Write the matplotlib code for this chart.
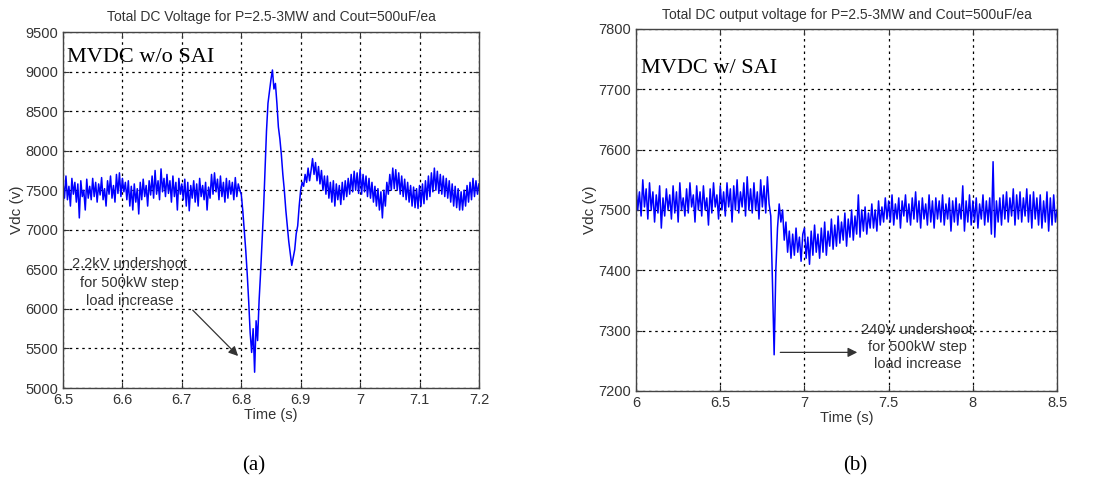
import numpy as np
import matplotlib
matplotlib.use("Agg")
import matplotlib.pyplot as plt

plt.rcParams['font.family'] = ['Liberation Sans', 'DejaVu Sans']

# ---- panel (a): MVDC w/o SAI, sampled every 2.5 ms ----
dt_a = 0.0025
# 6.500 .. 6.7975 baseline
va_base1 = [7600, 7400, 7680, 7380, 7550, 7300, 7650, 7450, 7600, 7350,
            7580, 7150, 7620, 7420, 7500, 7250, 7640, 7400, 7550, 7380,
            7650, 7420, 7600, 7350, 7580, 7440, 7660, 7380, 7520, 7300,
            7620, 7450, 7680, 7400, 7560, 7350, 7700, 7460, 7720, 7420,
            7650, 7480, 7600, 7380, 7620, 7300, 7550, 7250, 7580, 7350,
            7520, 7200, 7600, 7380, 7640, 7420, 7560, 7300, 7620, 7440,
            7680, 7400, 7750, 7450, 7620, 7380, 7770, 7480, 7650, 7420,
            7700, 7460, 7620, 7350, 7680, 7420, 7600, 7250, 7650, 7450,
            7580, 7380, 7640, 7300, 7600, 7240, 7560, 7400, 7620, 7350,
            7580, 7300, 7650, 7420, 7560, 7380, 7600, 7250, 7540, 7400,
            7700, 7450, 7720, 7480, 7640, 7380, 7680, 7420, 7600, 7350,
            7650, 7400, 7620, 7450, 7600, 7380, 7660, 7420, 7580, 7500]
# 6.800 .. 6.9175 step-load transient
va_trans = [7450, 7250, 7000, 6750, 6450, 6100, 5700, 5450, 5750, 5200,
            5850, 5600, 6100, 6450, 6850, 7250, 7750, 8250, 8600, 8750,
            8900, 9020, 8780, 8850, 8600, 8300, 8150, 7950, 7700, 7500,
            7250, 7050, 6850, 6700, 6550, 6650, 6750, 6950, 7050, 7300,
            7500, 7600, 7550, 7700, 7600, 7780, 7620, 7750]
# 6.920 .. 7.200 recovery
va_base2 = [7900, 7700, 7850, 7620, 7800, 7580, 7750, 7500, 7680, 7450,
            7680, 7400, 7600, 7350, 7620, 7300, 7580, 7380, 7560, 7320,
            7600, 7380, 7620, 7420, 7650, 7450, 7700, 7480, 7740, 7500,
            7720, 7460, 7760, 7450, 7700, 7480, 7680, 7420, 7650, 7400,
            7600, 7350, 7550, 7300, 7520, 7250, 7480, 7150, 7500, 7300,
            7600, 7450, 7700, 7500, 7780, 7520, 7760, 7500, 7720, 7450,
            7680, 7420, 7640, 7380, 7600, 7350, 7560, 7300, 7540, 7280,
            7520, 7270, 7560, 7300, 7580, 7330, 7620, 7380, 7680, 7420,
            7720, 7480, 7780, 7500, 7740, 7460, 7700, 7450, 7680, 7420,
            7650, 7400, 7620, 7350, 7580, 7300, 7550, 7280, 7520, 7250,
            7480, 7250, 7500, 7300, 7560, 7350, 7600, 7380, 7650, 7420,
            7620, 7450, 7580]

# ---- panel (b): MVDC w/ SAI, sampled every 10 ms ----
dt_b = 0.01
# 6.00 .. 6.79
vb_base1 = [7540, 7500, 7530, 7490, 7550, 7505, 7535, 7485, 7545, 7500,
            7530, 7480, 7525, 7495, 7540, 7470, 7520, 7490, 7535, 7500,
            7525, 7485, 7540, 7495, 7530, 7480, 7545, 7500, 7520, 7490,
            7535, 7495, 7545, 7505, 7525, 7480, 7540, 7500, 7530, 7490,
            7540, 7500, 7520, 7475, 7535, 7495, 7545, 7505, 7525, 7485,
            7540, 7500, 7530, 7490, 7545, 7505, 7535, 7480, 7540, 7500,
            7550, 7495, 7530, 7505, 7545, 7490, 7555, 7500, 7535, 7495,
            7545, 7500, 7530, 7485, 7550, 7505, 7540, 7495, 7555, 7510]
# 6.80 .. 6.99
vb_trans = [7490, 7380, 7260, 7400, 7470, 7510, 7480, 7500, 7450, 7480,
            7430, 7465, 7420, 7460, 7425, 7470, 7430, 7455, 7415, 7460]
# 7.00 .. 8.50
vb_base2 = [7470, 7420, 7455, 7410, 7465, 7425, 7475, 7430, 7460, 7420,
            7470, 7430, 7480, 7425, 7465, 7440, 7485, 7435, 7475, 7440,
            7490, 7445, 7480, 7450, 7495, 7440, 7485, 7455, 7500, 7450,
            7490, 7460, 7525, 7455, 7500, 7465, 7505, 7460, 7495, 7470,
            7510, 7470, 7500, 7465, 7515, 7475, 7505, 7480, 7520, 7485,
            7515, 7480, 7525, 7475, 7510, 7485, 7520, 7470, 7515, 7490,
            7525, 7480, 7510, 7475, 7520, 7485, 7530, 7480, 7515, 7470,
            7520, 7485, 7510, 7475, 7525, 7480, 7515, 7470, 7520, 7485,
            7515, 7480, 7525, 7475, 7510, 7485, 7520, 7465, 7515, 7480,
            7520, 7475, 7510, 7485, 7540, 7465, 7515, 7480, 7525, 7475,
            7515, 7480, 7520, 7470, 7510, 7485, 7525, 7475, 7515, 7480,
            7520, 7460, 7580, 7455, 7515, 7480, 7520, 7475, 7525, 7485,
            7530, 7480, 7520, 7490, 7535, 7475, 7525, 7485, 7530, 7480,
            7520, 7490, 7535, 7480, 7525, 7470, 7530, 7485, 7520, 7475,
            7525, 7470, 7515, 7480, 7530, 7465, 7520, 7475, 7525, 7480,
            7500]


def seg_time(start, dt, vals):
    return start + dt * np.arange(len(vals))


ta = np.concatenate([seg_time(6.5, dt_a, va_base1),
                     seg_time(6.8, dt_a, va_trans),
                     seg_time(6.92, dt_a, va_base2)])
va = np.array(va_base1 + va_trans + va_base2)
tb = np.concatenate([seg_time(6.0, dt_b, vb_base1),
                     seg_time(6.8, dt_b, vb_trans),
                     seg_time(7.0, dt_b, vb_base2)])
vb = np.array(vb_base1 + vb_trans + vb_base2)

fig = plt.figure(figsize=(11.01, 4.86), dpi=100)
ax1 = fig.add_axes([0.0572, 0.2016, 0.3778, 0.7325])
ax2 = fig.add_axes([0.5777, 0.1955, 0.3824, 0.7449])


def style(ax):
    ax.grid(True, color='black', linestyle=(0, (2, 3)), linewidth=0.9)
    for s in ax.spines.values():
        s.set_color('#444444')
        s.set_linewidth(1.0)
    ax.tick_params(direction='in', length=4, labelsize=10.5,
                   colors='#333333', top=True, right=True)
    ax.set_xlabel('Time (s)', fontsize=10.5, color='#333333', labelpad=1)
    ax.set_ylabel('Vdc (v)', fontsize=11, color='#333333', labelpad=1)


ax1.plot(ta, va, color='#0000ff', linewidth=1.1)
ax1.set_xlim(6.5, 7.2)
ax1.set_ylim(5000, 9500)
ax1.set_xticks([6.5, 6.6, 6.7, 6.8, 6.9, 7.0, 7.1, 7.2])
ax1.set_xticklabels(['6.5', '6.6', '6.7', '6.8', '6.9', '7', '7.1', '7.2'])
ax1.set_yticks(np.arange(5000, 9501, 500))
style(ax1)
ax1.set_title('Total DC Voltage for P=2.5-3MW and Cout=500uF/ea',
              fontsize=10, color='#333333', pad=8)
ax1.text(0.01, 0.915, 'MVDC w/o SAI', transform=ax1.transAxes,
         family='Liberation Serif', fontsize=16, va='baseline')
ax1.text(6.612, 6330, '2.2kV undershoot\nfor 500kW step\nload increase',
         ha='center', va='center', fontsize=10.5, color='#333333',
         linespacing=1.4)
ax1.annotate('', xy=(6.798, 5380), xytext=(6.715, 6010),
             arrowprops=dict(arrowstyle='-|>', color='#333333', lw=0.9,
                             mutation_scale=14))

ax2.plot(tb, vb, color='#0000ff', linewidth=1.1)
ax2.set_xlim(6.0, 8.5)
ax2.set_ylim(7200, 7800)
ax2.set_xticks([6.0, 6.5, 7.0, 7.5, 8.0, 8.5])
ax2.set_xticklabels(['6', '6.5', '7', '7.5', '8', '8.5'])
ax2.set_yticks(np.arange(7200, 7801, 100))
style(ax2)
ax2.set_title('Total DC output voltage for P=2.5-3MW and Cout=500uF/ea',
              fontsize=10, color='#333333', pad=7)
ax2.text(0.012, 0.878, 'MVDC w/ SAI', transform=ax2.transAxes,
         family='Liberation Serif', fontsize=16, va='baseline')
ax2.text(7.67, 7273, '240V undershoot\nfor 500kW step\nload increase',
         ha='center', va='center', fontsize=10.5, color='#333333',
         linespacing=1.3)
ax2.annotate('', xy=(7.33, 7264), xytext=(6.84, 7264),
             arrowprops=dict(arrowstyle='-|>', color='#333333', lw=0.9,
                             mutation_scale=14))

fig.text(254 / 1101, 1 - 466 / 486, '(a)', family='Liberation Serif',
         fontsize=15, ha='center', va='center')
fig.text(855 / 1101, 1 - 466 / 486, '(b)', family='Liberation Serif',
         fontsize=15, ha='center', va='center')

fig.savefig('out.png', dpi=100)
